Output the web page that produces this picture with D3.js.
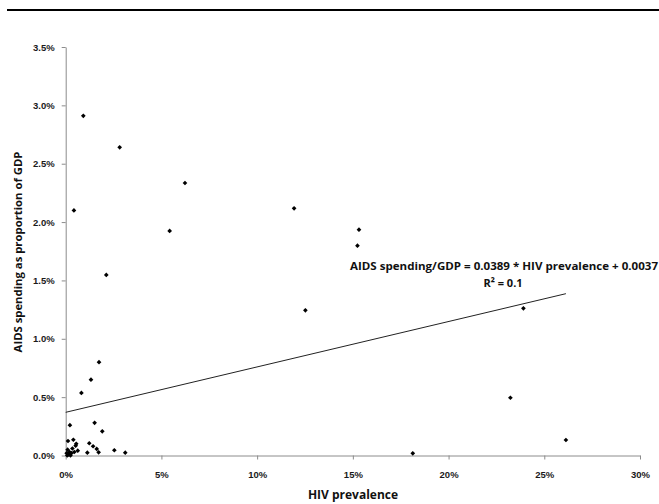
<!DOCTYPE html>
<html>
<head>
<meta charset="utf-8">
<script src="https://d3js.org/d3.v7.min.js"></script>
<style>
  body { margin: 0; background: #fff; }
  svg { display: block; }
  .tick text { font-family: "Liberation Sans", Arial, sans-serif; font-weight: bold; font-size: 9.5px; fill: #1a1a1a; }
  .axis-title { font-family: "Open Sans", "Noto Sans", sans-serif; font-weight: bold; fill: #111; }
  .eq { font-family: "Open Sans", "Noto Sans", sans-serif; font-weight: bold; font-size: 11px; fill: #111; }
</style>
</head>
<body>
<svg width="659" height="504"></svg>
<script>
// HIV prevalence (share of adults) per country
const hivPrev = [
  0.0092, 0.0282, 0.0043, 0.0623, 0.0543, 0.1193, 0.0212, 0.1252,
  0.1532, 0.1524, 0.2391, 0.2323, 0.2613, 0.1813,
  0.0174, 0.0132, 0.0082, 0.0022, 0.0151, 0.0191, 0.0254, 0.0311,
  0.0123, 0.0143, 0.0162, 0.0172, 0.0113,
  0.0012, 0.0040, 0.0052, 0.0063,
  0.0005, 0.0010, 0.0015, 0.0020, 0.0030, 0.0035, 0.0045, 0.0055, 0.0008, 0.0025
];
// AIDS spending as proportion of GDP, same order
const aidsSpend = [
  0.0291, 0.0264, 0.0210, 0.02335, 0.01924, 0.02118, 0.01547, 0.01244,
  0.01935, 0.01798, 0.01261, 0.00495, 0.00133, 0.00019,
  0.0080, 0.0065, 0.00536, 0.0026, 0.0028, 0.00207, 0.00045, 0.00024,
  0.00105, 0.00079, 0.00056, 0.00027, 0.00024,
  0.00124, 0.00135, 0.00084, 0.00041,
  0.0002, 0.0005, 0.0001, 0.0003, 0.0002, 0.0006, 0.0003, 0.0010, 0.0000, 0.0000
];
const xTicks = [0, 0.05, 0.10, 0.15, 0.20, 0.25, 0.30];
const yTicks = [0, 0.005, 0.010, 0.015, 0.020, 0.025, 0.030, 0.035];
const slope = 0.0389, intercept = 0.0037;
const eqLines = ["AIDS spending/GDP = 0.0389 * HIV prevalence + 0.0037", "R² = 0.1"];

const svg = d3.select("svg");
const x = d3.scaleLinear().domain([0, 0.30]).range([65.7, 640]);
const y = d3.scaleLinear().domain([0, 0.035]).range([455.5, 47]);

// top rule
svg.append("line").attr("x1", 7).attr("x2", 659).attr("y1", 10).attr("y2", 10)
  .attr("stroke", "#000").attr("stroke-width", 2.2);

// axes
const xAxis = svg.append("g").attr("transform", `translate(0,${y(0)})`)
  .call(d3.axisBottom(x).tickValues(xTicks).tickFormat(d3.format(".0%")).tickSizeInner(4).tickSizeOuter(0).tickPadding(12));
const yAxis = svg.append("g").attr("transform", `translate(${x(0)},0)`)
  .call(d3.axisLeft(y).tickValues(yTicks).tickFormat(d3.format(".1%")).tickSizeInner(4).tickSizeOuter(0).tickPadding(7));
[xAxis, yAxis].forEach(a => {
  a.select(".domain").attr("stroke", "#8c8c8c");
  a.selectAll(".tick line").attr("stroke", "#8c8c8c");
});

// trend line
const xMax = d3.max(hivPrev);
svg.append("line")
  .attr("x1", x(0)).attr("y1", y(intercept))
  .attr("x2", x(xMax)).attr("y2", y(slope * xMax + intercept))
  .attr("stroke", "#222").attr("stroke-width", 1);

// points
svg.append("g").selectAll("path")
  .data(hivPrev.map((v, i) => [v, aidsSpend[i]]))
  .join("path")
  .attr("transform", d => `translate(${x(d[0])},${y(d[1])})`)
  .attr("d", d3.symbol(d3.symbolDiamond2, 14))
  .attr("fill", "#000");

// equation label
svg.append("text").attr("class", "eq").attr("x", 504).attr("y", 270)
  .attr("text-anchor", "middle").attr("textLength", 308).attr("lengthAdjust", "spacingAndGlyphs")
  .text(eqLines[0]);
svg.append("text").attr("class", "eq").attr("x", 503).attr("y", 287)
  .attr("text-anchor", "middle").text(eqLines[1]);

// axis titles
svg.append("text").attr("class", "axis-title").style("font-size", "11.3px")
  .attr("transform", "translate(22,252) rotate(-90)")
  .attr("text-anchor", "middle").text("AIDS spending as proportion of GDP");
svg.append("text").attr("class", "axis-title").style("font-size", "12px")
  .attr("x", 353).attr("y", 499).attr("text-anchor", "middle").text("HIV prevalence");
</script>
</body>
</html>
